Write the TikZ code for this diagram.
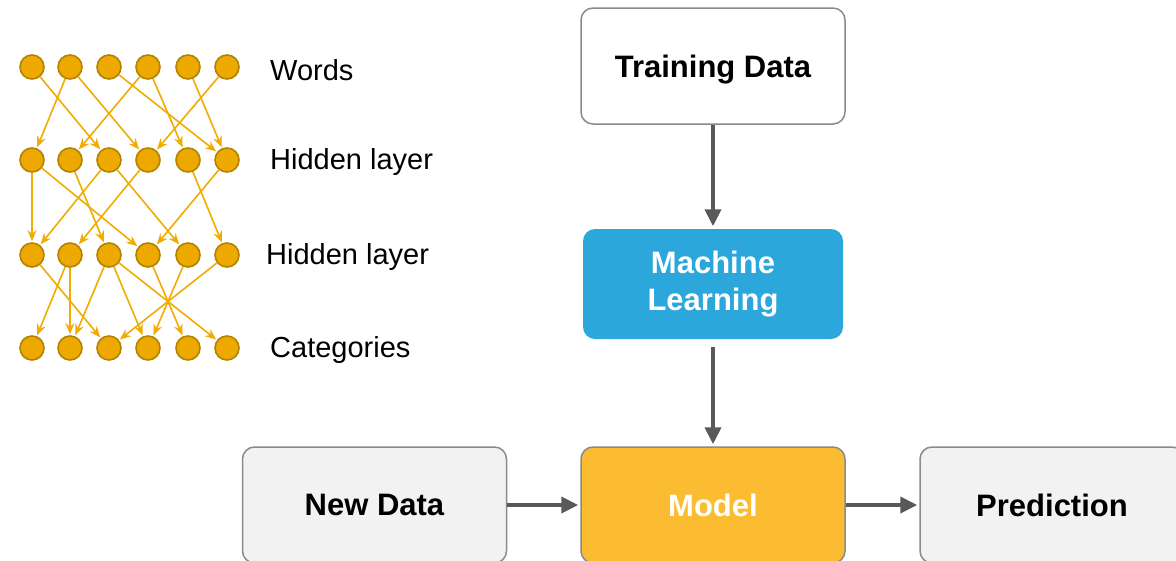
\documentclass[tikz,border=0pt]{standalone}
\usepackage{fontspec}
\setmainfont{Liberation Sans}
\usetikzlibrary{arrows.meta,positioning}

\definecolor{neuronfill}{HTML}{EEA900}
\definecolor{neuronline}{HTML}{B38200}
\definecolor{linkcol}{HTML}{F0AC00}
\definecolor{flowgray}{HTML}{595959}
\definecolor{boxline}{HTML}{8A8A8A}
\definecolor{mlblue}{HTML}{2BA7DB}
\definecolor{modelgold}{HTML}{FCBC32}
\definecolor{lightbox}{HTML}{F2F2F2}

\begin{document}
\begin{tikzpicture}[x=1pt,y=-1pt,
  neuron/.style={circle,fill=neuronfill,draw=neuronline,line width=1.6pt,minimum size=24pt,inner sep=0pt},
  link/.style={linkcol,line width=1.6pt,-{Stealth[length=11pt,width=9pt]},shorten >=1pt},
  layertext/.style={anchor=west,inner sep=0pt,font=\fontsize{29}{34}\selectfont},
  flowbox/.style={rounded corners=12pt,line width=1.5pt,minimum width=264pt,minimum height=116pt,
    align=center,font=\fontsize{31}{37}\selectfont\bfseries},
  flow/.style={flowgray,line width=4pt,-{Triangle[length=17pt,width=16pt]},shorten >=2pt}]
  \useasboundingbox (0,0) rectangle (1176,560);

  % network
  \foreach \r/\y in {1/67,2/160,3/255,4/348}
    \foreach \c/\x in {1/32,2/70,3/109,4/148,5/188,6/227}
      \node[neuron] (n\r\c) at (\x,\y) {};
  \foreach \a/\b in {1/3,2/1,2/4,3/6,4/2,4/5,5/6,6/4}
    \draw[link] (n1\a) -- (n2\b);
  \foreach \a/\b in {1/1,1/4,2/3,3/1,3/5,4/2,5/6,6/4}
    \draw[link] (n2\a) -- (n3\b);
  \foreach \a/\b in {1/3,2/1,2/2,3/2,3/4,3/6,4/5,5/4,6/3}
    \draw[link] (n3\a) -- (n4\b);

  \node[layertext] (words) at (270,70) {Words};
  \node[layertext] (hidden1) at (270,162) {Hidden layer};
  \node[layertext] (hidden2) at (266,257) {Hidden layer};
  \node[layertext] (cats) at (270,350) {Categories};

  % flow
  \node[flowbox,draw=boxline,fill=white,text depth=0pt] (train) at (713,66) {Training Data};
  \node[flowbox,fill=mlblue,text=white,minimum width=260pt,minimum height=110pt] (ml) at (713,284) {Machine\\Learning};
  \node[flowbox,draw=boxline,fill=modelgold,text=white] (model) at (713,505) {Model};
  \node[flowbox,draw=boxline,fill=lightbox] (newdata) at (374.5,505) {New Data};
  \node[flowbox,draw=boxline,fill=lightbox] (predict) at (1052,505) {Prediction};

  \draw[flow] (train) -- (ml);
  \draw[flow,shorten <=7pt] (ml) -- (model);
  \draw[flow] (newdata) -- (model);
  \draw[flow] (model) -- (predict);
\end{tikzpicture}
\end{document}
